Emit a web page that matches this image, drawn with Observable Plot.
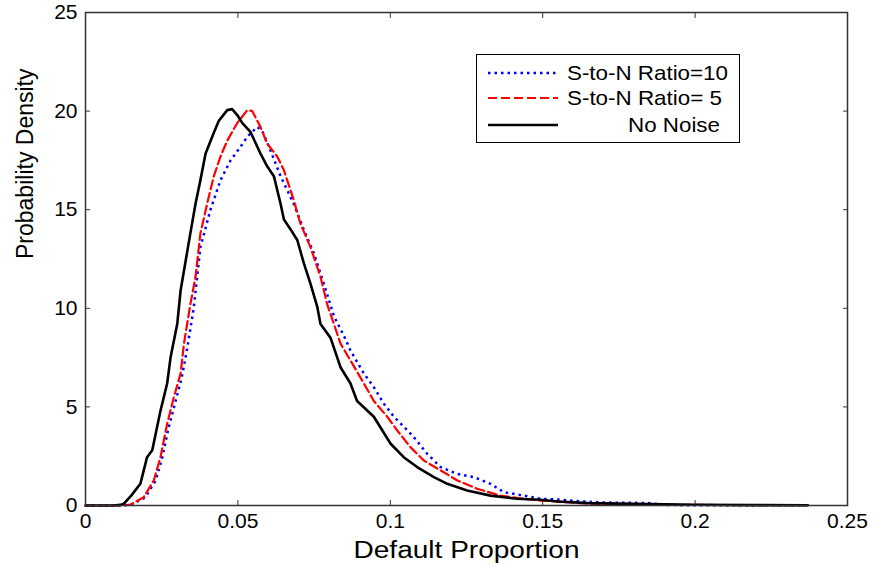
<!DOCTYPE html>
<html>
<head>
<meta charset="utf-8">
<script src="https://cdn.jsdelivr.net/npm/d3@7"></script>
<script src="https://cdn.jsdelivr.net/npm/@observablehq/plot@0.6"></script>
<style>
  html, body { margin: 0; padding: 0; background: #fff; }
  #wrap { position: relative; width: 874px; height: 567px; font-family: "Liberation Sans", Arial, sans-serif; }
  #legend { position: absolute; left: 0; top: 0; }
</style>
</head>
<body>
<div id="wrap"></div>
<script>
// ---- data ----
const noNoiseX = [0, 0.009, 0.0115, 0.0126, 0.015, 0.018, 0.0202, 0.0219, 0.0246, 0.0268, 0.0279, 0.0301, 0.0312, 0.0334, 0.0344, 0.0361, 0.0377, 0.0394, 0.0421, 0.0437, 0.0465, 0.0481, 0.0498, 0.0514, 0.0541, 0.0574, 0.0596, 0.0618, 0.064, 0.0651, 0.0673, 0.0695, 0.0716, 0.0738, 0.076, 0.0771, 0.0804, 0.0837, 0.0869, 0.0891, 0.0946, 0.1001, 0.1044, 0.1088, 0.1143, 0.1187, 0.1252, 0.1329, 0.1416, 0.1493, 0.155, 0.165, 0.18, 0.2, 0.22, 0.237];
const noNoiseY = [0, 0, 0.03, 0.09, 0.5, 1.1, 2.45, 2.8, 4.8, 6.2, 7.5, 9.2, 10.9, 12.9, 13.8, 15.3, 16.5, 17.85, 18.9, 19.5, 20.05, 20.1, 19.8, 19.4, 18.95, 17.85, 17.2, 16.7, 15.3, 14.5, 14.0, 13.45, 12.3, 11.25, 10.1, 9.2, 8.5, 7.0, 6.2, 5.3, 4.5, 3.13, 2.45, 1.95, 1.44, 1.1, 0.76, 0.5, 0.34, 0.29, 0.2, 0.12, 0.08, 0.04, 0.02, 0.01];

const snr5X = [0, 0.012, 0.0148, 0.0191, 0.0224, 0.0246, 0.0268, 0.029, 0.0312, 0.0323, 0.0344, 0.0361, 0.0377, 0.0399, 0.0421, 0.0443, 0.0465, 0.0498, 0.0531, 0.0547, 0.0574, 0.0596, 0.0629, 0.0651, 0.0683, 0.0705, 0.0738, 0.0771, 0.0793, 0.0815, 0.0837, 0.0869, 0.0913, 0.0946, 0.099, 0.1023, 0.1066, 0.111, 0.1165, 0.122, 0.1285, 0.1362, 0.1438, 0.1493, 0.155, 0.162, 0.17, 0.185, 0.2, 0.215, 0.237];
const snr5Y = [0, 0, 0.05, 0.42, 1.27, 2.45, 4.15, 5.5, 6.7, 8.2, 10.2, 11.6, 13.8, 15.3, 16.7, 17.7, 18.5, 19.4, 20.05, 20.0, 19.2, 18.35, 17.7, 17.0, 15.5, 14.3, 13.1, 11.6, 10.2, 9.2, 8.2, 7.36, 6.2, 5.3, 4.5, 3.8, 2.96, 2.28, 1.78, 1.27, 0.85, 0.5, 0.34, 0.25, 0.2, 0.12, 0.07, 0.04, 0.03, 0.02, 0.02];

const snr10X = [0, 0.012, 0.015, 0.0195, 0.0228, 0.025, 0.0272, 0.0294, 0.0316, 0.0334, 0.0355, 0.0377, 0.041, 0.0443, 0.0476, 0.0509, 0.0531, 0.0563, 0.058, 0.0607, 0.064, 0.0683, 0.0716, 0.0749, 0.0782, 0.0815, 0.0848, 0.0869, 0.0913, 0.0946, 0.0979, 0.1012, 0.1044, 0.1077, 0.1121, 0.1165, 0.122, 0.1274, 0.1329, 0.1372, 0.1438, 0.1493, 0.155, 0.162, 0.17, 0.178, 0.185, 0.19, 0.237];
const snr10Y = [0, 0, 0.05, 0.4, 1.2, 2.3, 3.9, 5.2, 6.5, 8.0, 10.0, 13.1, 15.0, 16.5, 17.5, 18.2, 18.7, 19.2, 19.0, 18.0, 16.7, 15.3, 14.0, 12.8, 11.25, 9.6, 8.6, 7.87, 6.7, 6.0, 5.16, 4.5, 4.0, 3.47, 2.62, 1.95, 1.6, 1.44, 1.1, 0.68, 0.5, 0.34, 0.3, 0.22, 0.15, 0.14, 0.12, 0.02, 0.01];

const seriesNames = ["S-to-N Ratio=10", "S-to-N Ratio= 5", "No Noise"];
const xTicks = [0, 0.05, 0.1, 0.15, 0.2, 0.25];
const xTickLabels = ["0", "0.05", "0.1", "0.15", "0.2", "0.25"];
const yTicks = [0, 5, 10, 15, 20, 25];
const xLabel = "Default Proportion";
const yLabel = "Probability Density";

// ---- build ----
const toRows = (xs, ys) => xs.map((x, i) => ({x, y: ys[i]}));
const blue = toRows(snr10X, snr10Y);
const red = toRows(snr5X, snr5Y);
const black = toRows(noNoiseX, noNoiseY);

const font = "Liberation Sans, Arial, sans-serif";

const chart = Plot.plot({
  width: 874,
  height: 567,
  marginLeft: 85,
  marginRight: 27,
  marginTop: 12,
  marginBottom: 62,
  style: {fontFamily: font, fontSize: "21px", color: "#000", background: "#fff"},
  x: {domain: [0, 0.25]},
  y: {domain: [0, 25]},
  marks: [
    Plot.axisX({ticks: xTicks, tickSize: -5, tickPadding: 13, tickFormat: (d) => xTickLabels[xTicks.indexOf(d)], label: null, stroke: "#333", fontSize: 21}),
    Plot.axisX({anchor: "top", ticks: xTicks, tickSize: -5, tickFormat: () => "", label: null, stroke: "#333"}),
    Plot.axisY({ticks: yTicks, tickSize: -5, tickPadding: 13, label: null, stroke: "#333", fontSize: 21}),
    Plot.axisY({anchor: "right", ticks: yTicks, tickSize: -5, tickFormat: () => "", label: null, stroke: "#333"}),
    Plot.line(blue, {x: "x", y: "y", stroke: "#0000ff", strokeWidth: 2.5, strokeDasharray: "2.5,4", strokeLinecap: "butt"}),
    Plot.line(red, {x: "x", y: "y", stroke: "#ff0000", strokeWidth: 2.2, strokeDasharray: "9,4"}),
    Plot.line(black, {x: "x", y: "y", stroke: "#000", strokeWidth: 2.6}),
    Plot.frame({stroke: "#333", strokeWidth: 1.5}),
    Plot.text([xLabel], {frameAnchor: "bottom", dy: 52, fontSize: 23, fill: "#000", text: (d) => d}),
    Plot.text([yLabel], {frameAnchor: "left", dx: -60, rotate: -90, fontSize: 23, fill: "#000", text: (d) => d})
  ]
});
document.getElementById("wrap").appendChild(chart);

// stretch the x-axis label horizontally as in the original
d3.select(chart).selectAll("text").filter(function () { return this.textContent === xLabel; })
  .attr("textLength", 226).attr("lengthAdjust", "spacingAndGlyphs");

// ---- legend ----
const legendStyles = [
  {stroke: "#0000ff", dash: "2.5,4", width: 2.5},
  {stroke: "#ff0000", dash: "9,4", width: 2.2},
  {stroke: "#000", dash: null, width: 2.6}
];
const lg = d3.select("#wrap").append("svg")
  .attr("id", "legend").attr("width", 874).attr("height", 567)
  .style("font-family", font);
lg.append("rect").attr("x", 476.5).attr("y", 54.5).attr("width", 263).attr("height", 88)
  .attr("fill", "#fff").attr("stroke", "#000").attr("stroke-width", 1);
const rowY = [73, 98, 125];
const textX = [567, 567, 628];
const textLen = [161, 155, 92];
seriesNames.forEach((name, i) => {
  lg.append("line").attr("x1", 488).attr("x2", 558).attr("y1", rowY[i]).attr("y2", rowY[i])
    .attr("stroke", legendStyles[i].stroke).attr("stroke-width", legendStyles[i].width)
    .attr("stroke-dasharray", legendStyles[i].dash);
  lg.append("text").attr("x", textX[i]).attr("y", rowY[i]).attr("dy", "0.35em")
    .attr("font-size", 21).attr("fill", "#000")
    .attr("textLength", textLen[i]).attr("lengthAdjust", "spacingAndGlyphs")
    .style("white-space", "pre")
    .text(name);
});
</script>
</body>
</html>
